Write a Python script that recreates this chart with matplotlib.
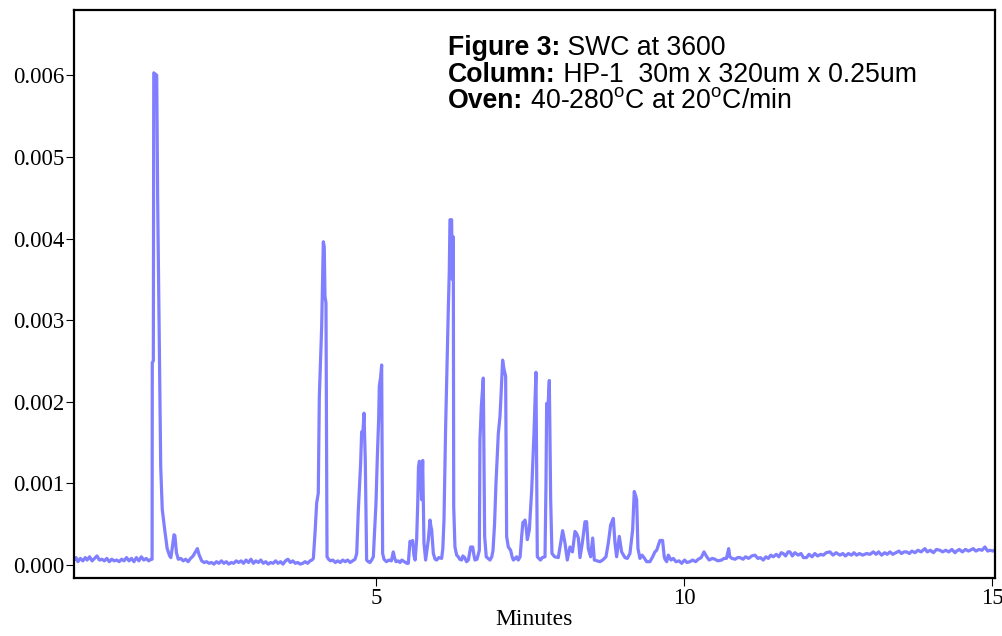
import numpy as np
import matplotlib
matplotlib.use("Agg")
import matplotlib.pyplot as plt
from matplotlib.ticker import FormatStrFormatter

# chromatogram trace: (minutes, signal)
trace_points = [
    (0.10, 0.00006), (0.13, 0.00009), (0.16, 0.00004), (0.20, 0.00008), (0.24, 0.00005),
    (0.28, 0.00009), (0.31, 0.00006), (0.35, 0.00010), (0.39, 0.00005), (0.43, 0.00008),
    (0.47, 0.00011), (0.51, 0.00006), (0.55, 0.00007), (0.59, 0.00005), (0.63, 0.00008),
    (0.67, 0.00004), (0.71, 0.00007), (0.75, 0.00005), (0.79, 0.00006), (0.83, 0.00004),
    (0.87, 0.00007), (0.91, 0.00005), (0.95, 0.00009), (0.99, 0.00005), (1.03, 0.00008),
    (1.07, 0.00004), (1.11, 0.00009), (1.15, 0.00005), (1.19, 0.00010), (1.23, 0.00006),
    (1.27, 0.00008), (1.31, 0.00005), (1.35, 0.00007),
    # solvent peak
    (1.365, 0.00007), (1.368, 0.00248), (1.385, 0.00250), (1.392, 0.00603), (1.44, 0.00600),
    (1.455, 0.00450), (1.47, 0.00350), (1.49, 0.00220), (1.505, 0.00120), (1.53, 0.00068),
    (1.575, 0.00040), (1.61, 0.00020), (1.65, 0.00011), (1.67, 0.00009), (1.70, 0.00025),
    (1.72, 0.00037), (1.735, 0.00036), (1.76, 0.00015), (1.79, 0.00007), (1.83, 0.00008),
    (1.87, 0.00005), (1.91, 0.00007), (1.95, 0.00004), (1.99, 0.00008), (2.03, 0.00011),
    (2.07, 0.00016), (2.10, 0.00020), (2.13, 0.00012), (2.17, 0.00005), (2.21, 0.00003),
    (2.25, 0.00004), (2.29, 0.00002), (2.33, 0.00003), (2.37, 0.00001),
    (2.41, 0.00004), (2.45, 0.00002), (2.49, 0.00005), (2.53, 0.00002), (2.57, 0.00004),
    (2.61, 0.00001), (2.65, 0.00003), (2.69, 0.00002), (2.73, 0.00005), (2.77, 0.00003),
    (2.81, 0.00005), (2.85, 0.00002), (2.89, 0.00006), (2.93, 0.00003), (2.97, 0.00007),
    (3.01, 0.00002), (3.05, 0.00005), (3.09, 0.00003), (3.13, 0.00006), (3.17, 0.00002),
    (3.21, 0.00004), (3.25, 0.00001), (3.29, 0.00003), (3.33, 0.00002), (3.37, 0.00005),
    (3.41, 0.00002), (3.45, 0.00004), (3.49, 0.00001), (3.53, 0.00005), (3.57, 0.00007),
    (3.61, 0.00003), (3.65, 0.00005), (3.69, 0.00002), (3.73, 0.00003), (3.77, 0.00001),
    (3.81, 0.00002), (3.85, 0.00004), (3.89, 0.00002), (3.93, 0.00005), (3.96, 0.00006),
    # 4 - 5 min
    (3.983, 0.00008), (4.010, 0.00039), (4.037, 0.00076), (4.063, 0.00088), (4.080, 0.00206),
    (4.118, 0.00292), (4.145, 0.00396), (4.160, 0.00390), (4.172, 0.00329), (4.188, 0.00321),
    (4.205, 0.00010), (4.23, 0.00007), (4.26, 0.00005), (4.30, 0.00006), (4.34, 0.00003),
    (4.38, 0.00005), (4.42, 0.00003), (4.46, 0.00006), (4.50, 0.00004), (4.54, 0.00006),
    (4.58, 0.00003), (4.62, 0.00005), (4.66, 0.00007),
    (4.687, 0.00014), (4.713, 0.00067), (4.751, 0.00125), (4.767, 0.00163), (4.790, 0.00165),
    (4.805, 0.00186), (4.826, 0.00129), (4.848, 0.00006), (4.875, 0.00004), (4.902, 0.00003),
    (4.93, 0.00006),
    (4.957, 0.00010), (5.000, 0.00076), (5.022, 0.00133), (5.043, 0.00178), (5.054, 0.00219),
    (5.075, 0.00230), (5.092, 0.00245), (5.108, 0.00014), (5.13, 0.00007), (5.17, 0.00004),
    (5.21, 0.00006), (5.25, 0.00005), (5.281, 0.00016), (5.30, 0.00009), (5.325, 0.00004),
    (5.36, 0.00005), (5.39, 0.00003), (5.42, 0.00006), (5.46, 0.00004), (5.50, 0.00002),
    (5.525, 0.00002), (5.552, 0.00029), (5.575, 0.00026), (5.595, 0.00030), (5.615, 0.00012),
    (5.635, 0.00006), (5.66, 0.00031), (5.677, 0.00074), (5.690, 0.00120), (5.703, 0.00127),
    (5.720, 0.00125), (5.74, 0.00080), (5.758, 0.00128), (5.779, 0.00027), (5.806, 0.00006),
    (5.83, 0.00020), (5.85, 0.00031), (5.877, 0.00055), (5.89, 0.00048), (5.904, 0.00043),
    (5.931, 0.00014), (5.96, 0.00007), (5.985, 0.00006), (6.02, 0.00009), (6.066, 0.00008),
    # 6 - 8 min
    (6.085, 0.00020), (6.104, 0.00055), (6.131, 0.00170), (6.155, 0.00250), (6.174, 0.00313),
    (6.190, 0.00360), (6.201, 0.00423), (6.228, 0.00423), (6.240, 0.00350), (6.255, 0.00402),
    (6.262, 0.00071), (6.282, 0.00022), (6.31, 0.00012), (6.336, 0.00010), (6.36, 0.00007),
    (6.39, 0.00006), (6.41, 0.00011), (6.44, 0.00009), (6.47, 0.00004), (6.50, 0.00006),
    (6.537, 0.00022), (6.57, 0.00022), (6.59, 0.00012), (6.607, 0.00006), (6.64, 0.00007),
    (6.678, 0.00018), (6.688, 0.00153), (6.71, 0.00194), (6.742, 0.00229), (6.764, 0.00035),
    (6.79, 0.00010), (6.82, 0.00008), (6.851, 0.00006), (6.88, 0.00010), (6.90, 0.00018),
    (6.925, 0.00050), (6.948, 0.00100), (6.986, 0.00161), (7.013, 0.00182), (7.029, 0.00206),
    (7.056, 0.00251), (7.078, 0.00240), (7.105, 0.00231), (7.121, 0.00035), (7.148, 0.00022),
    (7.186, 0.00018), (7.21, 0.00010), (7.23, 0.00006), (7.26, 0.00008), (7.284, 0.00010),
    (7.31, 0.00006), (7.34, 0.00010), (7.365, 0.00035), (7.385, 0.00052), (7.403, 0.00053),
    (7.419, 0.00055), (7.435, 0.00048), (7.457, 0.00031), (7.49, 0.00043), (7.528, 0.00092),
    (7.565, 0.00161), (7.597, 0.00236), (7.619, 0.00010), (7.645, 0.00008), (7.67, 0.00006),
    (7.70, 0.00009), (7.744, 0.00010), (7.76, 0.00100), (7.771, 0.00198), (7.79, 0.00190),
    (7.814, 0.00226), (7.836, 0.00080), (7.857, 0.00014), (7.90, 0.00010), (7.96, 0.00009),
    # 8 - 10 min
    (7.987, 0.00022), (8.03, 0.00042), (8.068, 0.00027), (8.106, 0.00006), (8.149, 0.00022),
    (8.19, 0.00016), (8.231, 0.00041), (8.26, 0.00038), (8.285, 0.00033), (8.312, 0.00009),
    (8.35, 0.00027), (8.393, 0.00053), (8.42, 0.00053), (8.447, 0.00020), (8.485, 0.00010),
    (8.518, 0.00033), (8.545, 0.00006), (8.59, 0.00005), (8.636, 0.00004), (8.68, 0.00006),
    (8.734, 0.00010), (8.772, 0.00027), (8.81, 0.00049), (8.853, 0.00057), (8.88, 0.00027),
    (8.907, 0.00010), (8.95, 0.00035), (8.988, 0.00016), (9.042, 0.00009), (9.08, 0.00008),
    (9.123, 0.00014), (9.167, 0.00043), (9.193, 0.00090), (9.215, 0.00085), (9.232, 0.00080),
    (9.253, 0.00020), (9.286, 0.00008), (9.32, 0.00012), (9.351, 0.00009), (9.394, 0.00004),
    (9.448, 0.00004), (9.492, 0.00010), (9.529, 0.00016), (9.557, 0.00018), (9.61, 0.00030),
    (9.653, 0.00030), (9.68, 0.00010), (9.692, 0.00007), (9.72, 0.00004), (9.746, 0.00012),
    (9.79, 0.00006), (9.827, 0.00008), (9.87, 0.00004), (9.92, 0.00005), (9.963, 0.00002),
    # 10 - 15 min, slowly rising baseline
    (10.01, 0.00006), (10.05, 0.00003), (10.097, 0.00004), (10.14, 0.00006), (10.19, 0.00004),
    (10.232, 0.00007), (10.28, 0.00009), (10.325, 0.00016), (10.37, 0.00010), (10.41, 0.00006),
    (10.46, 0.00008), (10.503, 0.00007), (10.55, 0.00005), (10.612, 0.00006), (10.65, 0.00008),
    (10.69, 0.00008), (10.705, 0.00013), (10.726, 0.00020), (10.745, 0.00010), (10.78, 0.00008),
    (10.83, 0.00007), (10.87, 0.00009), (10.91, 0.00009), (10.96, 0.00007), (11.00, 0.00010),
    (11.05, 0.00008), (11.10, 0.00011), (11.153, 0.00012), (11.20, 0.00008), (11.24, 0.00009),
    (11.287, 0.00006), (11.33, 0.00010), (11.37, 0.00008), (11.41, 0.00012), (11.45, 0.00010),
    (11.50, 0.00013), (11.54, 0.00010), (11.58, 0.00015), (11.612, 0.00014), (11.65, 0.00011),
    (11.69, 0.00016), (11.72, 0.00016), (11.76, 0.00011), (11.80, 0.00015), (11.855, 0.00012),
    (11.90, 0.00014), (11.94, 0.00009), (11.99, 0.00009), (12.03, 0.00013), (12.08, 0.00010),
    (12.125, 0.00014), (12.17, 0.00011), (12.22, 0.00013), (12.262, 0.00012), (12.31, 0.00015),
    (12.37, 0.00016), (12.42, 0.00012), (12.47, 0.00015), (12.532, 0.00012), (12.58, 0.00014),
    (12.62, 0.00011), (12.67, 0.00014), (12.72, 0.00012), (12.76, 0.00015), (12.803, 0.00012),
    (12.85, 0.00014), (12.90, 0.00012), (12.966, 0.00014), (13.02, 0.00013), (13.074, 0.00016),
    (13.12, 0.00013), (13.16, 0.00016), (13.209, 0.00012), (13.26, 0.00015), (13.30, 0.00013),
    (13.344, 0.00016), (13.39, 0.00013), (13.44, 0.00015), (13.49, 0.00017), (13.53, 0.00014),
    (13.575, 0.00016), (13.615, 0.00016), (13.66, 0.00014), (13.70, 0.00017), (13.75, 0.00015),
    (13.80, 0.00018), (13.85, 0.00016), (13.912, 0.00020), (13.95, 0.00016), (14.00, 0.00018),
    (14.05, 0.00015), (14.10, 0.00019), (14.156, 0.00018), (14.20, 0.00016), (14.25, 0.00018),
    (14.30, 0.00016), (14.35, 0.00019), (14.40, 0.00015), (14.427, 0.00017), (14.47, 0.00019),
    (14.52, 0.00016), (14.57, 0.00019), (14.62, 0.00017), (14.697, 0.00020), (14.74, 0.00017),
    (14.79, 0.00019), (14.84, 0.00018), (14.886, 0.00022), (14.93, 0.00017), (14.968, 0.00018),
    (15.02, 0.00017), (15.06, 0.00019),
]
minutes = np.array([p[0] for p in trace_points])
signal = np.array([p[1] for p in trace_points])

x_ticks = [5, 10, 15]
y_ticks = [0.000, 0.001, 0.002, 0.003, 0.004, 0.005, 0.006]

# (bold heading, plain text) for each line of the note
info_lines = [
    ("Figure 3:", "SWC at 3600"),
    ("Column:", "HP-1  30m x 320um x 0.25um"),
    ("Oven:", r"40-280$^{\mathrm{o}}$C at 20$^{\mathrm{o}}$C/min"),
]

plt.rcParams["mathtext.fontset"] = "custom"
plt.rcParams["mathtext.rm"] = "Liberation Sans"

fig = plt.figure(figsize=(10.03, 6.36), dpi=100)
ax = fig.add_axes([74 / 1003, 1 - 578 / 636, (995 - 74) / 1003, (578 - 10) / 636])

ax.plot(minutes, signal, color="#7f7fff", lw=2.3, solid_joinstyle="round")

ax.set_xlim(0.097, 15.05)
ax.set_ylim(-0.00016, 0.0068)
ax.set_xticks(x_ticks)
ax.set_yticks(y_ticks)
ax.yaxis.set_major_formatter(FormatStrFormatter("%.3f"))

for s in ax.spines.values():
    s.set_linewidth(1.6)
ax.tick_params(direction="out", length=6, width=0.8, pad=1, labelsize=16.5)
for lab in ax.get_xticklabels() + ax.get_yticklabels():
    lab.set_fontfamily("Liberation Serif")

ax.set_xlabel("Minutes", fontfamily="Liberation Serif", fontsize=17, labelpad=0)

renderer = fig.canvas.get_renderer()
x0 = 0.406
for i, (head, rest) in enumerate(info_lines):
    y = 0.920 - i * 0.0466
    t = ax.text(x0, y, head, transform=ax.transAxes, fontfamily="Liberation Sans",
                fontweight="bold", fontsize=19.2, va="baseline", ha="left")
    w = t.get_window_extent(renderer).width / ax.bbox.width
    ax.text(x0 + w, y, " " + rest, transform=ax.transAxes, fontfamily="Liberation Sans",
            fontsize=19.2, va="baseline", ha="left")

fig.savefig("out.png", dpi=100)
